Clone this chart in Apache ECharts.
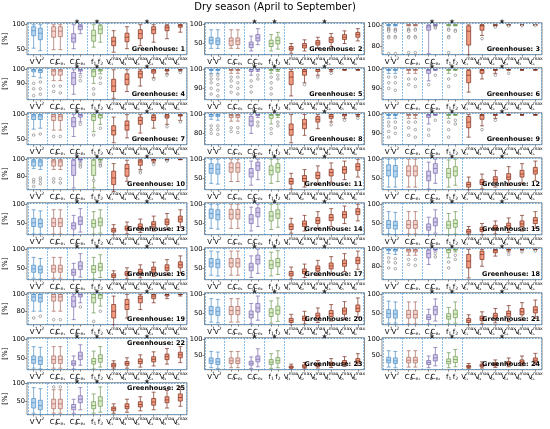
<!DOCTYPE html>
<html><head><meta charset="utf-8">
<script src="https://cdn.jsdelivr.net/npm/echarts@6/dist/echarts.min.js"></script>
<style>html,body{margin:0;padding:0;background:#fff}#c{width:550px;height:429px}</style>
</head><body><div id="c"></div>
<script>
const mainTitle = 'Dry season (April to September)';
const categories = ['V1','V2','Cd','Ce1','Cd','Ce2','f1','f2','Vt1max','Vt2max','Vt3max','Vt4max','Vt5max','Vt6max'];
const positions = [1,2,4,5,7,8,10,11,13,15,17,19,21,23];
const xTickLabels = ['{m|V}{sup|1}','{m|V}{sup|2}','{m|C}{sub|d}','{m|C}{sub|e₁}','{m|C}{sub|d}','{m|C}{sub|e₂}','{m|f}{sub|1}','{m|f}{sub|2}',
  '{m|V}{subw|t₁}{sup|max}','{m|V}{subw|t₂}{sup|max}','{m|V}{subw|t₃}{sup|max}','{m|V}{subw|t₄}{sup|max}','{m|V}{subw|t₅}{sup|max}','{m|V}{subw|t₆}{sup|max}'];
const groupOfBox = [0,0,1,1,2,2,3,3,4,4,4,4,4,4];

// [min, Q1, median, Q3, max] per box
const gh1 = [[53,78,88,96,100],[48,70,83,93,100],[50,75,87,96,100],[50,76,87,96,100],[52,65,73,82,100],[82,90,96,99,100],[55,67,78,89,100],[65,82,91,98,100],[45,58,67,75,88],[52,66,75,83,96],[58,72,82,90,100],[65,82,90,96,100],[72,88,94,98,100],[85,95,98,100,100]];
const gh2 = [[35,47,57,65,85],[35,45,55,63,85],[35,43,55,63,85],[35,45,55,63,85],[28,37,45,52,68],[45,55,63,72,88],[28,40,48,57,72],[33,47,56,65,78],[22,30,35,40,48],[28,36,42,48,58],[35,44,50,56,65],[40,51,58,65,75],[48,59,65,72,82],[55,65,72,78,88]];
const gh3 = [[99,99.6,100,100,100],[99,99.6,100,100,100],[99,99.6,100,100,100],[99,99.6,100,100,100],[73,95,98,99.5,100],[99,99.5,100,100,100],[99,99.6,100,100,100],[99,99.5,100,100,100],[72,81,94,99,100],[90,95,99,100,100],[99,99.3,99.8,100,100],[99.5,100,100,100,100],[99.5,100,100,100,100],[99.5,100,100,100,100]];
const gh4 = [[95,98.5,100,100,100],[94,98,99.5,100,100],[92,96,99,100,100],[92,96,99,100,100],[82,89,94,98,100],[97,99,100,100,100],[90,95,98.5,100,100],[97,99,100,100,100],[79,84,88,93,100],[84,89,93,97,100],[88,94,97,99,100],[94,97.5,99,100,100],[97,99,100,100,100],[99,99.8,100,100,100]];
const gh5 = [[98,99.5,100,100,100],[98,99.5,100,100,100],[98,99.5,100,100,100],[98,99.5,100,100,100],[97,99,100,100,100],[99,99.8,100,100,100],[98,99.5,100,100,100],[99,99.8,100,100,100],[86,92,96,99,100],[93,97,99,100,100],[97,99,100,100,100],[99,99.8,100,100,100],[99.5,100,100,100,100],[99.5,100,100,100,100]];
const gh6 = [[98,99.5,100,100,100],[98,99.5,100,100,100],[98,99.5,100,100,100],[98,99.5,100,100,100],[94,98,99.5,100,100],[99.5,100,100,100,100],[98,99.5,100,100,100],[99.5,100,100,100,100],[88,93,97,99.5,100],[95,98,99.5,100,100],[98,99.5,100,100,100],[99.5,100,100,100,100],[99.5,100,100,100,100],[99.5,100,100,100,100]];
const gh7 = [[70,90,97,100,100],[72,90,97,100,100],[68,88,96,100,100],[68,88,96,100,100],[55,75,85,94,100],[85,95,99,100,100],[65,88,96,100,100],[80,93,98,100,100],[42,58,67,77,95],[52,68,78,87,100],[62,80,88,95,100],[72,88,94,98,100],[80,93,97,100,100],[88,97,99,100,100]];
const gh8 = [[95,98,100,100,100],[94,98,99.5,100,100],[93,97,99,100,100],[93,97,99,100,100],[80,88,93,98,100],[97,99,100,100,100],[90,96,99,100,100],[97,99,100,100,100],[70,78,84,90,100],[78,85,90,95,100],[85,92,95,98,100],[92,96,98,100,100],[96,98.5,100,100,100],[98,99.5,100,100,100]];
const gh9 = [[98,99.5,100,100,100],[98,99.5,100,100,100],[98,99.5,100,100,100],[98,99.5,100,100,100],[95,98.5,99.5,100,100],[99.5,100,100,100,100],[98,99.5,100,100,100],[99.5,100,100,100,100],[88,93,96,99,100],[94,97.5,99.5,100,100],[98,99.5,100,100,100],[99.5,100,100,100,100],[99.5,100,100,100,100],[99.5,100,100,100,100]];
const gh10 = [[89,92,97,99,100],[88,92,97,99,100],[88,92,97,99,100],[88,92,97,99,100],[66,81,93,99,100],[97,99,100,100,100],[66,81,93,99,100],[97,99,100,100,100],[62,70,78,86,95],[74,80,89,94,99],[88,93,97,99,100],[96,98,99.5,100,100],[99,99.5,100,100,100],[99.5,100,100,100,100]];
const gh11 = [[35,62,75,88,100],[33,60,73,87,100],[40,65,77,90,100],[40,65,77,90,100],[30,52,63,75,95],[45,70,82,92,100],[35,58,70,82,100],[40,65,77,88,100],[20,33,40,48,62],[25,40,48,56,72],[32,48,56,65,82],[38,55,64,73,90],[45,62,72,80,95],[52,70,80,88,100]];
const gh12 = [[25,55,70,85,100],[25,52,68,83,100],[25,55,68,82,100],[25,55,68,82,100],[20,42,55,68,92],[35,62,75,88,100],[25,50,62,75,98],[30,55,68,80,100],[18,25,32,38,52],[20,32,38,45,60],[25,38,45,53,70],[30,45,52,61,80],[35,52,60,70,88],[42,60,68,78,95]];
const gh13 = [[20,40,50,62,85],[20,38,48,60,82],[20,40,50,62,85],[20,40,50,62,85],[18,33,42,50,70],[25,45,55,66,88],[20,38,48,58,80],[22,42,52,63,85],[18,25,30,35,45],[20,30,35,41,52],[24,34,40,47,60],[28,39,46,53,68],[32,45,52,60,75],[38,52,60,68,85]];
const gh14 = [[35,62,75,87,100],[33,58,72,85,100],[35,60,73,86,100],[35,60,73,86,100],[28,48,60,72,92],[40,66,78,90,100],[32,55,68,80,100],[38,62,74,85,100],[22,32,40,47,62],[28,40,47,55,70],[35,48,56,64,80],[40,56,64,72,88],[48,63,72,80,95],[55,72,80,88,100]];
const gh15 = [[20,35,45,56,80],[18,33,43,54,78],[20,35,45,56,80],[20,35,45,56,80],[18,30,38,47,65],[22,42,52,63,85],[18,35,44,54,75],[20,38,48,58,80],[18,22,27,32,40],[18,27,32,38,48],[20,31,37,43,55],[24,35,42,49,63],[28,40,47,55,70],[35,48,56,64,80]];
const gh16 = [[22,38,47,57,78],[20,36,45,55,75],[22,38,47,57,78],[22,38,47,57,78],[18,30,38,46,62],[25,45,55,66,88],[20,37,46,56,78],[24,42,52,62,85],[18,24,29,34,42],[20,29,34,40,50],[23,33,39,46,58],[27,38,45,52,65],[31,43,50,58,72],[36,50,58,66,82]];
const gh17 = [[30,52,63,75,95],[28,50,61,73,93],[30,52,63,75,95],[30,52,63,75,95],[24,42,52,62,82],[35,60,72,84,100],[28,48,58,70,92],[32,53,64,75,96],[20,28,34,40,52],[24,34,40,47,60],[30,41,48,55,70],[34,47,55,63,80],[40,54,62,71,88],[46,61,70,78,95]];
const gh18 = [[95,98.5,100,100,100],[94,98,99.5,100,100],[93,97,99,100,100],[93,97,99,100,100],[82,90,95,99,100],[98,99.5,100,100,100],[90,96,99,100,100],[97,99,100,100,100],[66,78,86,94,100],[80,88,94,98,100],[92,96,98.5,100,100],[97,99,100,100,100],[99,99.8,100,100,100],[99.5,100,100,100,100]];
const gh19 = [[80,92,97,100,100],[80,91,96,100,100],[80,92,97,100,100],[80,92,97,100,100],[70,85,92,98,100],[90,97,99.5,100,100],[78,90,96,100,100],[86,95,99,100,100],[64,72,80,88,98],[72,82,88,94,100],[82,90,95,98,100],[90,95,98,100,100],[95,98,99.5,100,100],[98,99.5,100,100,100]];
const gh20 = [[25,45,56,67,88],[23,43,54,65,86],[25,45,56,67,88],[25,45,56,67,88],[20,36,45,55,75],[30,52,63,75,95],[22,40,50,61,82],[27,46,57,68,90],[18,24,29,35,46],[20,29,35,41,54],[24,35,42,49,63],[28,40,48,56,72],[33,46,55,63,80],[38,53,62,71,90]];
const gh21 = [[22,37,48,59,82],[22,36,47,58,80],[20,36,46,57,80],[20,36,46,57,80],[20,32,38,45,60],[28,45,58,68,88],[20,33,40,48,65],[22,37,47,58,80],[18,24,29,35,45],[20,29,35,41,53],[23,35,42,49,62],[26,40,48,55,70],[30,45,53,62,78],[35,50,58,67,85]];
const gh22 = [[22,35,45,55,80],[20,32,42,53,78],[22,35,45,55,80],[22,35,45,55,80],[20,30,35,42,55],[30,45,55,65,85],[20,33,40,48,68],[25,38,48,58,80],[20,25,30,35,42],[22,30,35,40,50],[25,34,40,47,58],[28,39,46,53,66],[33,45,53,60,75],[37,50,58,65,80]];
const gh23 = [[12,25,33,42,62],[10,22,30,40,60],[12,25,33,42,62],[12,25,33,42,62],[10,20,26,32,45],[15,30,38,48,70],[10,22,29,37,55],[12,26,34,43,64],[8,11,14,17,23],[9,13,17,21,28],[11,16,20,25,34],[13,19,24,29,40],[16,23,28,34,46],[19,27,33,40,55]];
const gh24 = [[14,27,35,44,64],[12,25,33,42,62],[14,27,35,44,64],[14,27,35,44,64],[12,22,28,34,48],[18,33,42,52,74],[12,24,31,39,58],[15,28,37,46,68],[10,13,16,19,25],[11,15,19,23,30],[13,18,22,27,36],[15,21,26,31,42],[18,25,30,36,48],[21,29,35,42,56]];
const gh25 = [[15,30,45,57,88],[12,25,37,52,85],[15,28,42,55,82],[15,28,42,55,82],[15,25,32,40,55],[25,45,55,65,88],[15,28,37,48,70],[18,35,50,62,90],[15,22,28,33,42],[18,28,34,42,55],[22,33,40,48,62],[25,38,47,57,75],[30,45,53,62,80],[35,50,60,70,90]];
const boxes = [gh1,gh2,gh3,gh4,gh5,gh6,gh7,gh8,gh9,gh10,gh11,gh12,gh13,gh14,gh15,gh16,gh17,gh18,gh19,gh20,gh21,gh22,gh23,gh24,gh25];

// outliers [position, value]
const out3 = [[1,97],[1,96],[1,95],[1,94],[1,89],[1,88],[1,73],[2,96],[2,95],[2,94],[2,89],[2,88],[2,73],[4,96],[4,95],[4,94],[4,89],[4,88],[4,74],[5,96],[5,95],[5,89],[5,88],[5,74],[8,98],[8,97],[10,96],[10,95],[10,89],[10,88],[10,74],[11,95],[11,94],[15,87],[17,98],[19,99],[21,99.3],[23,99.5]];
const out4 = [[1,90],[1,86],[1,81],[2,91],[2,86],[2,82],[4,88],[4,84],[5,88],[5,83],[8,95],[8,92],[10,86],[10,82],[11,94],[11,90],[19,93],[21,96],[23,98]];
const out5 = [[1,97],[1,95],[1,93],[1,90],[1,87],[2,97],[2,95],[2,92],[2,89],[2,86],[4,96],[4,94],[4,91],[4,88],[5,96],[5,93],[5,90],[5,87],[7,94],[7,91],[7,88],[8,97],[8,95],[10,96],[10,93],[10,90],[10,87],[11,97],[11,95],[15,92],[17,96],[19,98]];
const out6 = [[1,96],[1,93],[1,90],[2,96],[2,93],[2,89],[4,95],[4,92],[5,95],[5,91],[7,92],[8,97],[10,95],[10,91],[11,97],[17,97],[19,98]];
const out7 = [[1,58],[2,60],[4,55],[5,55],[8,80],[10,58],[11,72],[21,75],[23,85]];
const out8 = [[1,88],[1,84],[1,80],[2,88],[2,84],[2,79],[4,86],[4,82],[5,86],[5,81],[8,92],[8,88],[10,85],[10,80],[11,92],[11,88],[19,89],[21,94],[23,96]];
const out9 = [[1,96],[1,94],[1,91],[1,88],[2,96],[2,93],[2,90],[4,96],[4,93],[4,89],[5,96],[5,92],[5,88],[7,92],[7,89],[8,97],[10,96],[10,92],[10,88],[11,97],[11,95],[15,92],[17,97]];
const out10 = [[1,76],[1,73],[1,68],[2,78],[2,75],[2,71],[4,77],[4,73],[5,77],[5,72],[8,95],[8,93],[8,91],[10,75],[11,95],[11,93],[11,92],[17,86],[17,84],[19,94],[21,98]];
const out18 = [[1,90],[1,85],[1,78],[2,89],[2,84],[2,77],[4,88],[4,82],[5,88],[5,81],[8,95],[8,91],[10,85],[10,78],[11,93],[11,88],[19,94],[21,97],[23,98]];
const out19 = [[1,72],[2,74],[4,70],[5,70],[8,85],[10,68],[11,80]];
const out25 = [[4,90],[5,90]];
const outliers = [[],[],out3,out4,out5,out6,out7,out8,out9,out10,[],[],[],[],[],[],[],out18,out19,[],[],[],[],[],out25];

const yRanges = [[40,104],[18,104],[72,102],[78,101.5],[84,101],[84,101],[38,104],[68,102],[84,101],[64,102],[18,104],[18,104],[18,104],[18,104],[18,104],[18,104],[18,104],[64,102],[64,102],[18,104],[18,105],[18,104],[6,104],[6,104],[11,102]];
const yTicks = [[50,100],[50,100],[80,100],[90,100],[90,100],[90,100],[50,100],[80,100],[90,100],[80,100],[50,100],[50,100],[50,100],[50,100],[50,100],[50,100],[50,100],[80,100],[80,100],[50,100],[50,100],[50,100],[50,100],[50,100],[50,100]];
const starGroups = Array.from({length:25}, () => [7.5,10.5,18]);
const labelTop = [22,25];

const fills = ['#b7d5ee','#f5d3cd','#d4cbe9','#dbebc8','#f29b80'];
const edges = ['#4b8cc4','#a5685e','#7565aa','#6b9651','#7a2e1e'];

const colLeft = [27, 204.5, 382];
const rowTop0 = 22.7, rowStep = 45, panelW = 160, panelH = 32;
const starPath = 'path://M5,0 L6.2,3.4 L9.8,3.5 L7,5.7 L8,9.3 L5,7.2 L2,9.3 L3,5.7 L0.2,3.5 L3.8,3.4 Z';
const rich = {
  m: {fontSize: 7, fontFamily: 'DejaVu Sans', color: '#000', lineHeight: 10},
  sup: {fontSize: 4.5, fontFamily: 'DejaVu Sans', color: '#000', verticalAlign: 'top', lineHeight: 10},
  sub: {fontSize: 4.5, fontFamily: 'DejaVu Sans', color: '#000', verticalAlign: 'bottom', lineHeight: 10},
  subw: {fontSize: 4.5, fontFamily: 'DejaVu Sans', color: '#000', verticalAlign: 'bottom', lineHeight: 10, width: 0.1}
};
// split the tick labels over two bottom axes so neighbouring labels are never auto-hidden
const posA = positions.filter((p, k) => k % 2 === 0);
const posB = positions.filter((p, k) => k % 2 === 1);

const titles = [{text: mainTitle, left: 'center', top: 2, padding: 0,
  textStyle: {fontSize: 10, fontWeight: 'normal', fontFamily: 'DejaVu Sans', color: '#000'}}];
const grids = [], xAxes = [], yAxes = [], series = [];
function makeX(i, vals) {
  return {gridIndex: i, type: 'value', min: 0, max: 24, position: 'bottom', offset: 0,
    axisLine: {show: false}, splitLine: {show: false},
    axisTick: {show: true, customValues: vals, length: 2, lineStyle: {color: '#444', width: 0.6}},
    axisLabel: {customValues: vals, margin: 2, rich: rich, hideOverlap: false,
      formatter: v => { const k = positions.indexOf(v); return k >= 0 ? xTickLabels[k] : ''; }}};
}
for (let i = 0; i < 25; i++) {
  const r = Math.floor(i / 3), c = i % 3;
  const top = rowTop0 + r * rowStep, left = colLeft[c];
  const yr = yRanges[i];
  const atTop = labelTop.indexOf(i + 1) >= 0;
  titles.push({text: 'Greenhouse: ' + (i + 1), right: 550 - (left + panelW) + 2,
    top: atTop ? top + 2 : top + panelH - 9, padding: 0,
    textStyle: {fontSize: 6.5, fontWeight: 'bold', fontFamily: 'DejaVu Sans', color: '#000'}});
  grids.push({left: left, top: top, width: panelW, height: panelH, show: true,
    borderColor: '#8a8a8a', borderWidth: 1, backgroundColor: 'transparent'});
  xAxes.push(makeX(i, posA));
  xAxes.push(makeX(i, posB));
  yAxes.push({gridIndex: i, type: 'value', min: yr[0], max: yr[1],
    axisLine: {show: false}, splitLine: {show: false},
    axisTick: {show: true, customValues: yTicks[i], length: 2, lineStyle: {color: '#444', width: 0.6}},
    axisLabel: {customValues: yTicks[i], fontSize: 6.7, margin: 2, color: '#000', fontFamily: 'DejaVu Sans'},
    name: c === 0 ? '[%]' : '', nameLocation: 'middle', nameGap: 17,
    nameTextStyle: {fontSize: 7, color: '#000', fontFamily: 'DejaVu Sans'}});
  const inset = (yr[1] - yr[0]) * 0.025;
  series.push({type: 'boxplot', xAxisIndex: 2 * i, yAxisIndex: i, boxWidth: [4, 4],
    data: boxes[i].map((b, j) => ({value: [positions[j]].concat(b),
      itemStyle: {color: fills[groupOfBox[j]], borderColor: edges[groupOfBox[j]], borderWidth: 0.7}})),
    markLine: {silent: true, symbol: ['none', 'none'], label: {show: false}, animation: false,
      lineStyle: {color: '#3d95e0', type: [1.5, 1.5], width: 0.8},
      data: [{xAxis: 0.15}, {xAxis: 3}, {xAxis: 6}, {xAxis: 9}, {xAxis: 12}, {xAxis: 23.85},
        {yAxis: yr[1] - inset}, {yAxis: yr[0] + inset}]}});
  series.push({type: 'scatter', xAxisIndex: 2 * i, yAxisIndex: i, symbol: 'circle', symbolSize: 2.6,
    itemStyle: {color: '#fff', borderColor: '#555', borderWidth: 0.6}, data: outliers[i]});
  series.push({type: 'scatter', xAxisIndex: 2 * i, yAxisIndex: i, symbol: starPath, symbolSize: 5,
    clip: false, symbolOffset: [0, -1.5], z: 10, itemStyle: {color: '#000'},
    data: starGroups[i].map(x => [x, yr[1]])});
}
const chart = echarts.init(document.getElementById('c'), null, {renderer: 'canvas'});
chart.setOption({animation: false, textStyle: {fontFamily: 'DejaVu Sans'},
  title: titles, grid: grids, xAxis: xAxes, yAxis: yAxes, series: series});
</script></body></html>
